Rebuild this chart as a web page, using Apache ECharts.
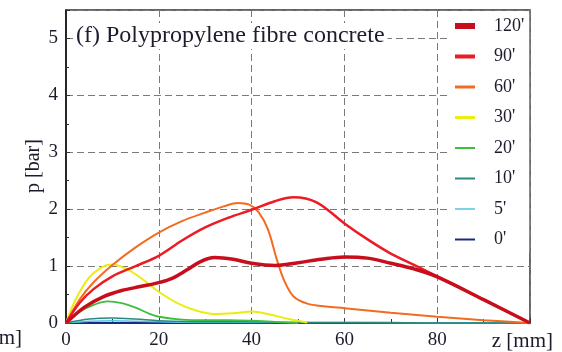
<!DOCTYPE html>
<html>
<head>
<meta charset="utf-8">
<script src="https://cdn.jsdelivr.net/npm/echarts@6/dist/echarts.min.js"></script>
<style>html,body{margin:0;padding:0;background:#fff}#c{width:562px;height:352px}</style>
</head>
<body>
<div id="c"></div>
<script>
// ---- data ----
var seriesNames = ["120'", "90'", "60'", "30'", "20'", "10'", "5'", "0'"];

var z120 = [0, 4, 8, 12, 16, 20, 23, 26, 29, 32, 36, 40, 45, 50, 55, 60, 65, 70, 75, 80, 90, 100];
var p120 = [0, 0.28, 0.46, 0.57, 0.64, 0.71, 0.79, 0.93, 1.08, 1.15, 1.12, 1.05, 1.01, 1.06, 1.12, 1.16, 1.14, 1.05, 0.95, 0.81, 0.41, 0];

var z90 = [0, 3, 6, 10, 15, 20, 25, 30, 35, 40, 45, 49, 54, 60, 65, 70, 75, 80, 90, 100];
var p90 = [0, 0.36, 0.6, 0.82, 1.0, 1.18, 1.45, 1.68, 1.85, 1.99, 2.14, 2.21, 2.12, 1.75, 1.47, 1.22, 1.02, 0.82, 0.41, 0];

var z60 = [0, 3, 6, 10, 15, 20, 25, 30, 34, 37, 39.5, 41.5, 43.5, 45.5, 47, 49, 52, 56, 60, 70, 80, 90, 100];
var p60 = [0, 0.42, 0.72, 1.02, 1.33, 1.59, 1.79, 1.94, 2.05, 2.11, 2.08, 1.95, 1.65, 1.1, 0.75, 0.47, 0.34, 0.29, 0.26, 0.18, 0.11, 0.05, 0];

var z30 = [0, 2, 5, 8, 10, 13, 16, 20, 24, 28, 32, 36, 40, 44, 48, 52];
var p30 = [0, 0.4, 0.8, 0.99, 1.03, 0.95, 0.8, 0.55, 0.35, 0.22, 0.16, 0.17, 0.2, 0.15, 0.07, 0.01];

var z20 = [0, 3, 6, 9, 12, 15, 18, 20, 25, 30, 35, 40, 45, 50];
var p20 = [0, 0.2, 0.32, 0.38, 0.35, 0.27, 0.16, 0.11, 0.06, 0.05, 0.05, 0.04, 0.02, 0];

var z10 = [0, 5, 10, 15, 20, 30, 40, 50, 60, 70, 80, 90, 100];
var p10 = [0, 0.07, 0.09, 0.07, 0.04, 0.02, 0.02, 0.01, 0.01, 0.01, 0, 0, 0];

var z5 = [0, 5, 10, 15, 20, 30, 40, 60, 80, 100];
var p5 = [0, 0.03, 0.04, 0.03, 0.02, 0.01, 0.01, 0.01, 0, 0];

var z0 = [0, 20, 40, 60, 80, 100];
var p0 = [0, 0, 0, 0, 0, 0];

var xTicks = [0, 20, 40, 60, 80];
var yTicks = [0, 1, 2, 3, 4, 5];
var titleText = "(f) Polypropylene fibre concrete";

// ---- styles ----
var colors = ['#c80e1c', '#ec1c24', '#f26b21', '#ecec10', '#3cbf3c', '#2a8a80', '#52c6e0', '#1b2a80'];
var widths = [3.5, 2.5, 2, 2, 1.8, 1.5, 1.5, 2];
var iconH = [6, 4, 3, 3, 2, 2, 1.5, 2];
var zs = [z120, z90, z60, z30, z20, z10, z5, z0];
var ps = [p120, p90, p60, p30, p20, p10, p5, p0];

function pairs(z, p) { return z.map(function (v, i) { return [v, p[i]]; }); }

var serif = 'Liberation Serif, Times New Roman, serif';
var txtColor = '#1c1c2c';

var series = [];
for (var i = seriesNames.length - 1; i >= 0; i--) {
  series.push({
    name: seriesNames[i],
    type: 'line',
    data: pairs(zs[i], ps[i]),
    smooth: 0.35,
    showSymbol: false,
    symbol: 'none',
    z: 10 - i,
    lineStyle: { color: colors[i], width: widths[i] },
    itemStyle: { color: colors[i] },
    emphasis: { disabled: true },
    animation: false
  });
}

var legendData = seriesNames.map(function (n, i) {
  var h = iconH[i];
  return { name: n, icon: 'path://M0,0H20V' + h + 'H0Z', itemStyle: { color: colors[i] } };
});

var chart = echarts.init(document.getElementById('c'), null, { renderer: 'canvas' });
chart.setOption({
  animation: false,
  backgroundColor: '#fff',
  title: {
    text: titleText,
    left: 73, top: 23,
    padding: [1, 3],
    backgroundColor: '#fff',
    textStyle: { fontFamily: serif, fontSize: 24, fontWeight: 'normal', color: txtColor }
  },
  grid: {
    left: 66, right: 32, top: 10, bottom: 29,
    show: true, borderColor: '#333', borderWidth: 1.5, backgroundColor: 'transparent'
  },
  legend: {
    orient: 'vertical',
    left: 450, top: 13,
    padding: [4, 5, 4, 5],
    backgroundColor: '#fff',
    data: legendData,
    itemWidth: 20, itemHeight: 14,
    itemGap: 12.5,
    symbolKeepAspect: true,
    selectedMode: false,
    textStyle: { fontFamily: serif, fontSize: 18, color: txtColor, padding: [0, 0, 0, 14], lineHeight: 18 }
  },
  xAxis: {
    type: 'value', min: 0, max: 100, interval: 20,
    axisLine: { show: true, lineStyle: { color: '#222', width: 1.5 } },
    axisTick: { show: true, inside: true, length: 5, lineStyle: { color: '#333' } },
    minorTick: { show: true, splitNumber: 2, length: 4, lineStyle: { color: '#333' } },
    splitLine: { show: true, lineStyle: { color: '#7a7a7a', type: [7, 4], width: 1 } },
    axisLabel: {
      fontFamily: serif, fontSize: 19, color: txtColor, margin: 8,
      formatter: function (v) { return xTicks.indexOf(v) >= 0 ? String(v) : ''; }
    }
  },
  yAxis: {
    type: 'value', min: 0, max: 5.5, interval: 1,
    axisLine: { show: true, lineStyle: { color: '#111', width: 1.5 } },
    axisTick: { show: true, inside: true, length: 4, lineStyle: { color: '#333' } },
    minorTick: { show: true, splitNumber: 2, length: 3, lineStyle: { color: '#333' } },
    splitLine: { show: true, lineStyle: { color: '#7a7a7a', type: [7, 4], width: 1 } },
    axisLabel: {
      fontFamily: serif, fontSize: 19, color: txtColor, margin: 8,
      formatter: function (v) { return yTicks.indexOf(v) >= 0 ? String(v) : ''; }
    }
  },
  graphic: [
    { type: 'text', x: 34, y: 166, rotation: Math.PI / 2, z: 100,
      style: { text: 'p [bar]', font: '20px ' + serif, fill: txtColor, textAlign: 'center', textVerticalAlign: 'middle' } },
    { type: 'text', x: 553, y: 341, z: 100,
      style: { text: 'z [mm]', font: '21px ' + serif, fill: txtColor, textAlign: 'right', textVerticalAlign: 'middle' } },
    { type: 'text', x: 22, y: 338, z: 100,
      style: { text: 'z [mm]', font: '21px ' + serif, fill: txtColor, textAlign: 'right', textVerticalAlign: 'middle' } }
  ],
  series: series
});
</script>
</body>
</html>
